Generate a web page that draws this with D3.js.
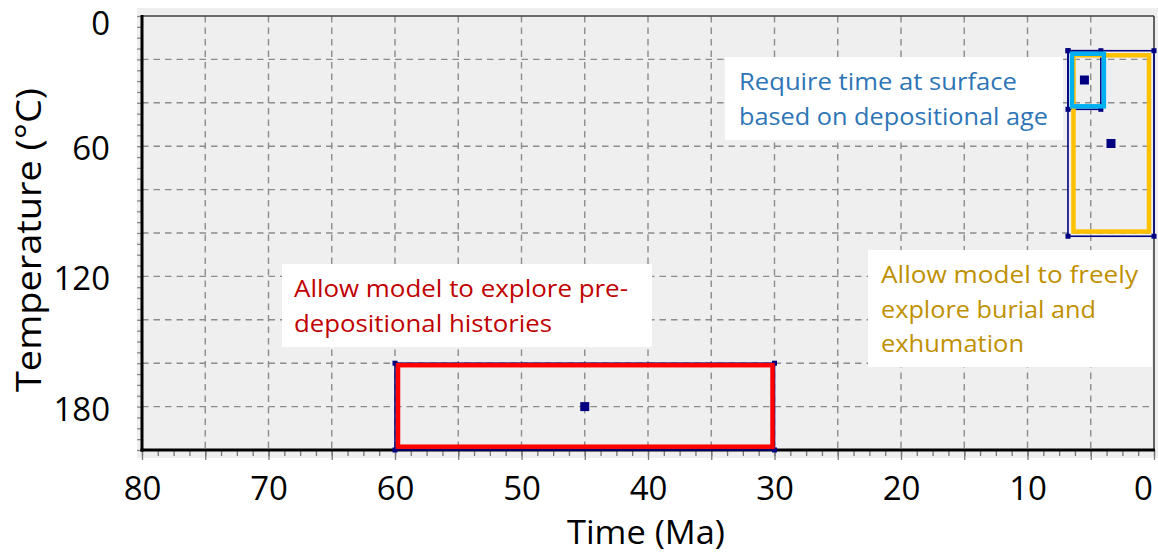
<!DOCTYPE html>
<html><head><meta charset="utf-8">
<script src="https://cdn.jsdelivr.net/npm/d3@7"></script>
<style>html,body{margin:0;padding:0;background:#fff;} svg{display:block;}</style>
</head><body>
<svg id="chart" width="1158" height="554"></svg>
<script>
// ---------- data ----------
const xTickValues = [80, 70, 60, 50, 40, 30, 20, 10, 0];
const yTickValues = [0, 60, 120, 180];
const boxNames = ["pre-depositional", "depositional age", "burial and exhumation"];
const boxTimeCenter = [45, 5.5, 3.4];        // Ma
const boxTimeHalfWidth = [15, 1.3, 3.4];     // Ma
const boxTempCenter = [180, 29.5, 58.75];    // °C
const boxTempHalfWidth = [20, 13.5, 42.75];  // °C
const boxHighlightColors = ["#ff0000", "#00b0f0", "#ffc000"];
const noteLines = [
  ["Allow model to explore pre-", "depositional histories"],
  ["Require time at surface", "based on depositional age"],
  ["Allow model to freely", "explore burial and", "exhumation"]
];
const noteColors = ["#c00000", "#2e75b6", "#bf9000"];
const xTitle = "Time (Ma)";
const yTitle = "Temperature (°C)";

// ---------- drawing ----------
const FONT = "'Open Sans', 'DejaVu Sans', sans-serif";
const svg = d3.select("#chart");
const x = d3.scaleLinear().domain([80, 0]).range([142, 1154]);
const y = d3.scaleLinear().domain([0, 200]).range([16, 450]);

// plot background
svg.append("rect").attr("x", 137).attr("y", 8).attr("width", 1021).attr("height", 450)
  .attr("fill", "#efefef");

// grid
const gv = svg.append("g");
gv.selectAll("line").data(d3.range(5, 80, 5)).join("line")
  .attr("x1", d => x(d)).attr("x2", d => x(d)).attr("y1", y(0)).attr("y2", y(200))
  .attr("stroke", "#8c8c8c").attr("stroke-width", 1.4).attr("stroke-dasharray", "6.5,5");
const gh = svg.append("g");
gh.selectAll("line").data(d3.range(20, 200, 20)).join("line")
  .attr("x1", x(80)).attr("x2", x(0)).attr("y1", d => y(d)).attr("y2", d => y(d))
  .attr("stroke", "#8c8c8c").attr("stroke-width", 1.4).attr("stroke-dasharray", "6.5,5");

// minor/major tick marks
function styleTicks(g, color) {
  g.select(".domain").remove();
  g.selectAll(".tick line").attr("stroke", color).attr("stroke-width", 1.3);
}
svg.append("g").attr("transform", "translate(0,450)")
  .call(d3.axisBottom(x).tickValues(d3.range(0, 80.001, 1.25)).tickSize(6).tickFormat(""))
  .call(g => styleTicks(g, "#777"));
svg.append("g").attr("transform", "translate(0,450)")
  .call(d3.axisBottom(x).tickValues(d3.range(0, 80.001, 5)).tickSize(10).tickFormat(""))
  .call(g => styleTicks(g, "#777"));
svg.append("g").attr("transform", "translate(142,0)")
  .call(d3.axisLeft(y).tickValues(d3.range(0, 200.001, 5)).tickSize(5).tickFormat(""))
  .call(g => styleTicks(g, "#888"));

// borders
svg.append("line").attr("x1", 142).attr("x2", 1154).attr("y1", 16).attr("y2", 16)
  .attr("stroke", "#404040").attr("stroke-width", 1.6);
svg.append("line").attr("x1", 1154).attr("x2", 1154).attr("y1", 16).attr("y2", 450)
  .attr("stroke", "#404040").attr("stroke-width", 1.6);
svg.append("line").attr("x1", 142).attr("x2", 142).attr("y1", 15).attr("y2", 451.5)
  .attr("stroke", "#000").attr("stroke-width", 3);
svg.append("line").attr("x1", 140.5).attr("x2", 1155).attr("y1", 450).attr("y2", 450)
  .attr("stroke", "#000").attr("stroke-width", 3);

// tick labels
svg.append("g").attr("transform", "translate(0,450)")
  .call(d3.axisBottom(x).tickValues(xTickValues).tickSize(0).tickFormat(d3.format("d")))
  .call(g => {
    g.select(".domain").remove();
    g.selectAll(".tick line").remove();
    g.selectAll("text").attr("y", 50).attr("dy", null)
      .attr("dx", d => d === 0 ? -11 : 0)
      .attr("font-family", FONT).attr("font-size", 33).attr("fill", "#000");
  });
svg.append("g").attr("transform", "translate(142,0)")
  .call(d3.axisLeft(y).tickValues(yTickValues).tickSize(0).tickFormat(d3.format("d")))
  .call(g => {
    g.select(".domain").remove();
    g.selectAll(".tick line").remove();
    g.selectAll("text").attr("x", -32).attr("dy", null)
      .attr("y", d => Math.max(y(d) + 2, 22.5) - y(d) + 11.5)
      .attr("text-anchor", "end")
      .attr("font-family", FONT).attr("font-size", 33).attr("fill", "#000");
  });

// axis titles
svg.append("text").attr("x", 646).attr("y", 544).attr("text-anchor", "middle")
  .attr("font-family", FONT).attr("font-size", 33).attr("fill", "#000")
  .attr("textLength", 158).attr("lengthAdjust", "spacingAndGlyphs").text(xTitle);
svg.append("text").attr("transform", "translate(41,240) rotate(-90)").attr("text-anchor", "middle")
  .attr("font-family", FONT).attr("font-size", 34).attr("fill", "#000")
  .attr("textLength", 304).attr("lengthAdjust", "spacingAndGlyphs").text(yTitle);

// annotation text boxes (white, opaque)
const noteLayout = [
  { x: 282, y: 264, w: 370, h: 83, tx: 294, base: [297, 332], widths: [334, 258] },
  { x: 725, y: 57, w: 338, h: 83, tx: 739, base: [90, 125], widths: [278, 309] },
  { x: 868, y: 250, w: 284, h: 117, tx: 881, base: [283, 318, 352], widths: [257, 215, 143] }
];
noteLines.forEach((lines, i) => {
  const L = noteLayout[i];
  const g = svg.append("g");
  g.append("rect").attr("x", L.x).attr("y", L.y).attr("width", L.w).attr("height", L.h).attr("fill", "#fff");
  g.selectAll("text").data(lines).join("text")
    .attr("x", L.tx).attr("y", (d, j) => L.base[j])
    .attr("font-family", FONT).attr("font-size", 23.5).attr("fill", noteColors[i])
    .attr("textLength", (d, j) => L.widths[j]).attr("lengthAdjust", "spacingAndGlyphs")
    .text(d => d);
});

// constraint boxes
const boxes = boxNames.map((name, i) => ({
  name,
  x0: x(boxTimeCenter[i] + boxTimeHalfWidth[i]),
  x1: x(boxTimeCenter[i] - boxTimeHalfWidth[i]),
  y0: y(boxTempCenter[i] - boxTempHalfWidth[i]),
  y1: y(boxTempCenter[i] + boxTempHalfWidth[i]),
  cx: x(boxTimeCenter[i]),
  cy: y(boxTempCenter[i]),
  color: boxHighlightColors[i]
}));
const NAVY = "#000080";
const bg = svg.append("g");
bg.selectAll("rect.outline").data(boxes).join("rect").attr("class", "outline")
  .attr("x", d => d.x0).attr("y", d => d.y0)
  .attr("width", d => d.x1 - d.x0).attr("height", d => d.y1 - d.y0)
  .attr("fill", "none").attr("stroke", NAVY).attr("stroke-width", 1.6);
const corners = boxes.flatMap(b => [[b.x0, b.y0], [b.x1, b.y0], [b.x0, b.y1], [b.x1, b.y1]]);
bg.selectAll("rect.corner").data(corners).join("rect").attr("class", "corner")
  .attr("x", d => d[0] - 2.5).attr("y", d => d[1] - 2.5).attr("width", 5).attr("height", 5)
  .attr("fill", NAVY);

// hand-drawn highlight frames (slightly inset)
const insets = [[3, -2, 2, -3.3], [4, 3, 3, -3], [5.5, -5, 4.6, -4.7]];
const order = [2, 1, 0];
order.forEach(i => {
  const b = boxes[i], o = insets[i];
  bg.append("rect")
    .attr("x", b.x0 + o[0]).attr("y", b.y0 + o[2])
    .attr("width", (b.x1 + o[1]) - (b.x0 + o[0])).attr("height", (b.y1 + o[3]) - (b.y0 + o[2]))
    .attr("fill", "none").attr("stroke", b.color).attr("stroke-width", 4.5);
});

// center points
bg.selectAll("rect.pt").data(boxes).join("rect").attr("class", "pt")
  .attr("x", d => d.cx - 4.5).attr("y", d => d.cy - 4.5).attr("width", 9).attr("height", 9)
  .attr("fill", NAVY);
</script>
</body></html>
